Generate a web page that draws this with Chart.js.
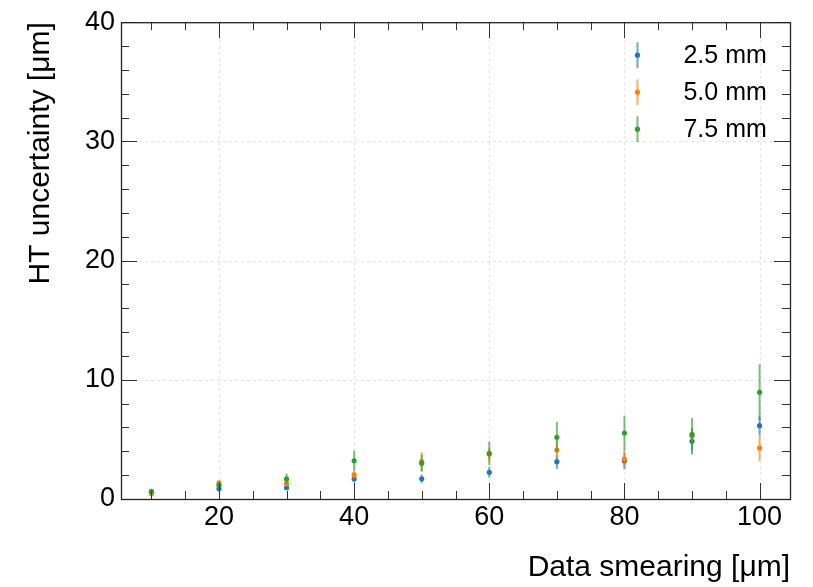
<!DOCTYPE html>
<html><head><meta charset="utf-8">
<script src="https://cdn.jsdelivr.net/npm/chart.js@4/dist/chart.umd.min.js"></script>
<style>html,body{margin:0;padding:0;background:#fff}</style>
</head><body>
<canvas id="c" width="813" height="587" style="width:813px;height:587px"></canvas>
<script>
// ---- data ----
const smearing = [10, 20, 30, 40, 50, 60, 70, 80, 90, 100];
const seriesLabels = ['2.5 mm', '5.0 mm', '7.5 mm'];
const unc25 = [0.55, 0.85, 0.95, 1.68, 1.70, 2.24, 3.13, 3.19, 4.84, 6.15];
const err25 = [0.10, 0.15, 0.15, 0.30, 0.35, 0.45, 0.60, 0.70, 1.10, 0.80];
const unc50 = [0.45, 1.35, 1.31, 2.04, 3.13, 3.75, 4.11, 3.35, 5.28, 4.28];
const err50 = [0.15, 0.20, 0.25, 0.35, 0.80, 0.55, 0.80, 0.75, 0.60, 1.10];
const unc75 = [0.65, 1.15, 1.68, 3.21, 2.99, 3.83, 5.17, 5.53, 5.42, 8.95];
const err75 = [0.15, 0.25, 0.45, 0.85, 0.70, 1.00, 1.30, 1.45, 1.37, 2.35];
const xTickValues = [20, 40, 60, 80, 100];
const yTickValues = [0, 10, 20, 30, 40];
const xMinorStep = 5;
const yMinorStep = 2;
const xTitle = 'Data smearing [μm]';
const yTitle = 'HT uncertainty [μm]';

// ---- styles ----
const FONT = "'Liberation Sans', Arial, Helvetica, sans-serif";
const colors = ['#1f77b4', '#ff7f0e', '#2ca02c'];
const errColors = ['rgba(31,119,180,0.65)', 'rgba(255,127,14,0.65)', 'rgba(44,160,44,0.65)'];
const values = [unc25, unc50, unc75];
const errors = [err25, err50, err75];

const datasets = seriesLabels.map((lab, k) => ({
  label: lab,
  data: smearing.map((x, i) => ({x: x, y: values[k][i]})),
  errors: errors[k],
  errColor: errColors[k],
  backgroundColor: colors[k],
  borderColor: colors[k],
  pointRadius: 2.6,
  pointBorderWidth: 0,
  showLine: false,
  order: seriesLabels.length - k
}));

function minorValues(scale, step) {
  const out = [];
  const start = Math.ceil(scale.min / step) * step;
  for (let v = start; v <= scale.max + 1e-9; v += step) out.push(v);
  return out;
}

const decor = {
  id: 'decor',
  beforeDatasetsDraw(chart) {
    const {ctx, chartArea: a, scales: {x, y}} = chart;
    ctx.save();
    ctx.strokeStyle = '#e3e3e3';
    ctx.lineWidth = 1;
    ctx.setLineDash([3, 3]);
    x.ticks.forEach(t => {
      const px = Math.round(x.getPixelForValue(t.value)) + 0.5;
      ctx.beginPath(); ctx.moveTo(px, a.top); ctx.lineTo(px, a.bottom); ctx.stroke();
    });
    y.ticks.forEach(t => {
      const py = Math.round(y.getPixelForValue(t.value)) + 0.5;
      ctx.beginPath(); ctx.moveTo(a.left, py); ctx.lineTo(a.right, py); ctx.stroke();
    });
    ctx.restore();
  },
  beforeDatasetDraw(chart, args) {
    const ds = chart.data.datasets[args.index];
    const {ctx, scales: {x, y}} = chart;
    ctx.save();
    ctx.strokeStyle = ds.errColor;
    ctx.lineWidth = 2;
    ds.data.forEach((p, i) => {
      const e = ds.errors[i];
      const px = x.getPixelForValue(p.x);
      ctx.beginPath();
      ctx.moveTo(px, y.getPixelForValue(p.y - e));
      ctx.lineTo(px, y.getPixelForValue(p.y + e));
      ctx.stroke();
    });
    ctx.restore();
  },
  afterDraw(chart) {
    const {ctx, chartArea: a, scales: {x, y}} = chart;
    ctx.save();
    // ticks (inside, all sides)
    ctx.strokeStyle = '#333';
    ctx.lineWidth = 1;
    const majL = 16, minL = 8;
    const xMaj = x.ticks.map(t => t.value);
    const yMaj = y.ticks.map(t => t.value);
    minorValues(x, xMinorStep).forEach(v => {
      const len = xMaj.includes(v) ? majL : minL;
      const px = Math.round(x.getPixelForValue(v)) + 0.5;
      ctx.beginPath();
      ctx.moveTo(px, a.bottom); ctx.lineTo(px, a.bottom - len);
      ctx.moveTo(px, a.top); ctx.lineTo(px, a.top + len);
      ctx.stroke();
    });
    minorValues(y, yMinorStep).forEach(v => {
      const len = yMaj.includes(v) ? majL : minL;
      const py = Math.round(y.getPixelForValue(v)) + 0.5;
      ctx.beginPath();
      ctx.moveTo(a.left, py); ctx.lineTo(a.left + len, py);
      ctx.moveTo(a.right, py); ctx.lineTo(a.right - len, py);
      ctx.stroke();
    });
    // frame
    ctx.strokeStyle = '#222';
    ctx.lineWidth = 1.3;
    ctx.strokeRect(a.left + 0.5, a.top + 0.5, a.right - a.left, a.bottom - a.top);
    // legend
    const lx = a.left + 0.772 * (a.right - a.left);
    const ly0 = a.top + 33;
    const dy = 37;
    chart.data.datasets.forEach((ds, k) => {
      const cy = ly0 + k * dy;
      ctx.strokeStyle = ds.errColor;
      ctx.lineWidth = 2;
      ctx.beginPath(); ctx.moveTo(lx, cy - 13); ctx.lineTo(lx, cy + 13); ctx.stroke();
      ctx.fillStyle = ds.backgroundColor;
      ctx.beginPath(); ctx.arc(lx, cy, 2.6, 0, Math.PI * 2); ctx.fill();
      ctx.fillStyle = '#000';
      ctx.font = '25px ' + FONT;
      ctx.textBaseline = 'middle';
      ctx.textAlign = 'left';
      ctx.fillText(ds.label, lx + 46, cy + 1);
    });
    ctx.restore();
  }
};

new Chart(document.getElementById('c'), {
  type: 'scatter',
  data: {datasets},
  plugins: [decor],
  options: {
    responsive: false,
    animation: false,
    layout: {padding: {left: 0, top: 22, right: 23, bottom: 0}},
    plugins: {legend: {display: false}, tooltip: {enabled: false}},
    scales: {
      x: {
        type: 'linear', min: 5.5, max: 104.5,
        afterBuildTicks: s => { s.ticks = xTickValues.map(v => ({value: v})); },
        afterFit: s => { s.height = 88; },
        grid: {display: false, drawTicks: false},
        border: {display: false},
        ticks: {color: '#000', font: {family: FONT, size: 27}, padding: 2, maxRotation: 0, autoSkip: false},
        title: {display: true, text: xTitle, align: 'end', color: '#000',
                font: {family: FONT, size: 30}, padding: {top: 0, bottom: 1}}
      },
      y: {
        type: 'linear', min: 0, max: 40,
        afterBuildTicks: s => { s.ticks = yTickValues.map(v => ({value: v})); },
        afterFit: s => { s.width = 121; },
        grid: {display: false, drawTicks: false},
        border: {display: false},
        ticks: {color: '#000', font: {family: FONT, size: 27}, padding: 6, autoSkip: false},
        title: {display: true, text: yTitle, align: 'end', color: '#000',
                font: {family: FONT, size: 30}, padding: {top: 23, bottom: 0}}
      }
    }
  }
});
</script>
</body></html>
